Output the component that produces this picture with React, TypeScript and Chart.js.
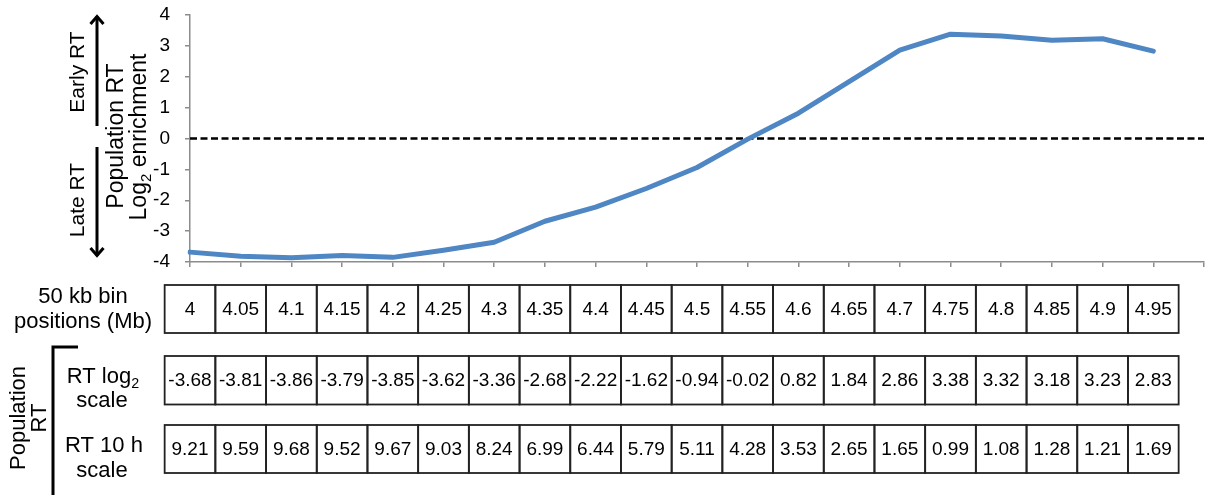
import { useEffect, useRef } from 'react';
import { Chart, registerables } from 'chart.js';

Chart.register(...registerables);

const FAMILY = '"Liberation Sans", Arial, Helvetica, sans-serif';

const positions = ['4', '4.05', '4.1', '4.15', '4.2', '4.25', '4.3', '4.35', '4.4', '4.45', '4.5', '4.55', '4.6', '4.65', '4.7', '4.75', '4.8', '4.85', '4.9', '4.95'];
const rtLog2 = [-3.68, -3.81, -3.86, -3.79, -3.85, -3.62, -3.36, -2.68, -2.22, -1.62, -0.94, -0.02, 0.82, 1.84, 2.86, 3.38, 3.32, 3.18, 3.23, 2.83];
const rt10h = [9.21, 9.59, 9.68, 9.52, 9.67, 9.03, 8.24, 6.99, 6.44, 5.79, 5.11, 4.28, 3.53, 2.65, 1.65, 0.99, 1.08, 1.28, 1.21, 1.69];
const yMin = -4;
const yMax = 4;
const yStep = 1;

type Run = { t: string; sub?: boolean };

function drawRuns(ctx: CanvasRenderingContext2D, runs: Run[], cx: number, cy: number, size: number, rotate = false) {
  ctx.save();
  ctx.translate(cx, cy);
  if (rotate) ctx.rotate(-Math.PI / 2);
  ctx.fillStyle = '#000';
  ctx.textBaseline = 'middle';
  ctx.textAlign = 'left';
  let total = 0;
  for (const r of runs) {
    ctx.font = `${r.sub ? size * 0.65 : size}px ${FAMILY}`;
    total += ctx.measureText(r.t).width;
  }
  let x = -total / 2;
  for (const r of runs) {
    ctx.font = `${r.sub ? size * 0.65 : size}px ${FAMILY}`;
    ctx.fillText(r.t, x, r.sub ? size * 0.32 : 0);
    x += ctx.measureText(r.t).width;
  }
  ctx.restore();
}

function arrow(ctx: CanvasRenderingContext2D, x: number, yFrom: number, yTo: number) {
  const dir = yTo < yFrom ? -1 : 1;
  ctx.save();
  ctx.strokeStyle = '#000';
  ctx.lineWidth = 3;
  ctx.lineCap = 'butt';
  ctx.beginPath();
  ctx.moveTo(x, yFrom);
  ctx.lineTo(x, yTo - dir * 1);
  ctx.stroke();
  ctx.lineJoin = 'miter';
  ctx.beginPath();
  ctx.moveTo(x - 6.5, yTo - dir * 9);
  ctx.lineTo(x, yTo - dir * 1.5);
  ctx.lineTo(x + 6.5, yTo - dir * 9);
  ctx.stroke();
  ctx.restore();
}

const decorPlugin = {
  id: 'decor',
  afterDraw(chart: any) {
    const ctx: CanvasRenderingContext2D = chart.ctx;
    const xs = chart.scales.x;
    const step = xs.getPixelForValue(1) - xs.getPixelForValue(0);

    // Y-axis titles
    drawRuns(ctx, [{ t: 'Population RT' }], 117, 136, 23, true);
    drawRuns(ctx, [{ t: 'Log' }, { t: '2', sub: true }, { t: ' enrichment' }], 140, 137, 23, true);
    drawRuns(ctx, [{ t: 'Early RT' }], 78, 72, 21, true);
    drawRuns(ctx, [{ t: 'Late RT' }], 78, 200, 21, true);
    arrow(ctx, 97, 126, 15);
    arrow(ctx, 97, 147, 257);

    // Table rows
    const rows: { vals: string[]; top: number; bottom: number }[] = [
      { vals: positions, top: 285, bottom: 333 },
      { vals: rtLog2.map((v) => v.toFixed(2)), top: 356, bottom: 404.5 },
      { vals: rt10h.map((v) => v.toFixed(2)), top: 425, bottom: 473 },
    ];
    ctx.save();
    for (const row of rows) {
      row.vals.forEach((s, i) => {
        const cx = xs.getPixelForValue(i);
        ctx.strokeStyle = '#222';
        ctx.lineWidth = 1.8;
        ctx.strokeRect(cx - step / 2, row.top, step, row.bottom - row.top);
        ctx.fillStyle = '#000';
        ctx.font = `19px ${FAMILY}`;
        ctx.textAlign = 'center';
        ctx.textBaseline = 'middle';
        ctx.fillText(s, cx, (row.top + row.bottom) / 2 + 1);
      });
    }
    ctx.restore();

    // Row labels
    drawRuns(ctx, [{ t: '50 kb bin' }], 83, 297, 22);
    drawRuns(ctx, [{ t: 'positions (Mb)' }], 83, 322, 22);
    drawRuns(ctx, [{ t: 'RT log' }, { t: '2', sub: true }], 103, 377, 22);
    drawRuns(ctx, [{ t: 'scale' }], 102, 401, 22);
    drawRuns(ctx, [{ t: 'RT 10 h' }], 104, 446, 22);
    drawRuns(ctx, [{ t: 'scale' }], 102, 471, 22);

    // Bracket
    ctx.save();
    ctx.strokeStyle = '#000';
    ctx.lineWidth = 3;
    ctx.beginPath();
    ctx.moveTo(78, 347);
    ctx.lineTo(53, 347);
    ctx.lineTo(53, 500);
    ctx.stroke();
    ctx.restore();
    drawRuns(ctx, [{ t: 'Population' }], 19, 418, 22, true);
    drawRuns(ctx, [{ t: 'RT' }], 40, 418, 22, true);
  },
};

export default function App() {
  const ref = useRef<HTMLCanvasElement | null>(null);
  useEffect(() => {
    if (!ref.current) return;
    const labels = [...positions, ''];
    const chart = new Chart(ref.current, {
      type: 'line',
      data: {
        labels,
        datasets: [
          {
            data: rtLog2,
            borderColor: '#4F86C4',
            borderWidth: 5,
            pointRadius: 0,
            tension: 0,
            borderCapStyle: 'round',
            borderJoinStyle: 'round',
            order: 0,
          },
          {
            data: labels.map(() => 0),
            borderColor: '#000',
            borderWidth: 2.5,
            borderDash: [7, 3.5],
            pointRadius: 0,
            order: 1,
          },
        ],
      },
      options: {
        animation: false,
        responsive: false,
        devicePixelRatio: 1,
        layout: { padding: { top: 15, right: 5, left: 0, bottom: 0 } },
        plugins: { legend: { display: false }, tooltip: { enabled: false } },
        scales: {
          x: {
            type: 'category',
            offset: false,
            border: { display: true, color: '#8c8c8c', width: 1.5 },
            grid: { drawOnChartArea: false, drawTicks: true, tickLength: 5, color: '#8c8c8c', lineWidth: 1.5 },
            ticks: { display: false, autoSkip: false },
            afterFit(s: any) {
              s.height = 233;
              s.paddingLeft = 0;
              s.paddingRight = 0;
            },
          },
          y: {
            min: yMin,
            max: yMax,
            border: { display: true, color: '#8c8c8c', width: 1.5 },
            grid: { drawOnChartArea: false, drawTicks: true, tickLength: 5, color: '#8c8c8c', lineWidth: 1.5 },
            ticks: { stepSize: yStep, color: '#000', font: { size: 19, family: FAMILY }, padding: 15 },
            afterFit(s: any) {
              s.width = 190;
              s.paddingTop = 0;
              s.paddingBottom = 0;
            },
          },
        },
      } as any,
      plugins: [decorPlugin],
    });
    return () => chart.destroy();
  }, []);
  return (
    <div style={{ position: 'absolute', left: 0, top: 0, width: 1209, height: 495, background: '#fff' }}>
      <canvas ref={ref} width={1209} height={495} style={{ width: 1209, height: 495, display: 'block' }} />
    </div>
  );
}
